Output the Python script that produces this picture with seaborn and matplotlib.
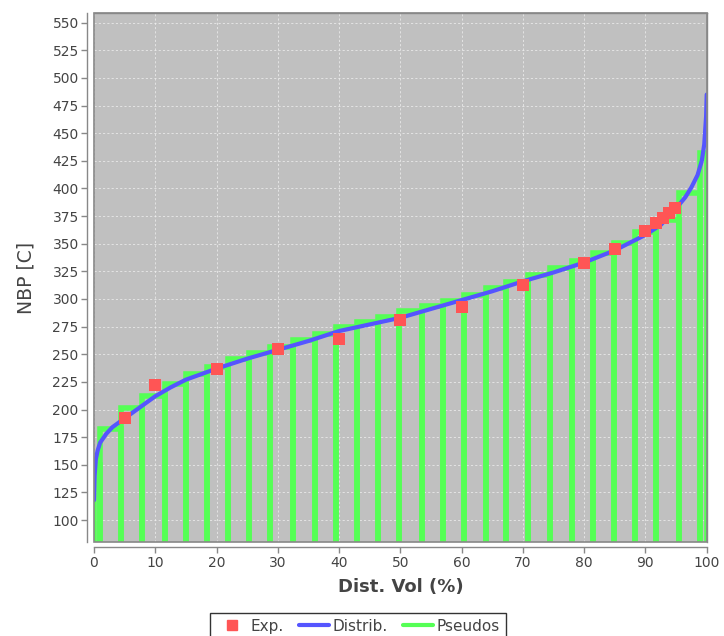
import matplotlib
matplotlib.use("Agg")
import matplotlib.pyplot as plt
from matplotlib.lines import Line2D
from matplotlib.patches import Rectangle
import numpy as np
import seaborn as sns

# Pseudo-component cut points (vol %) and their boiling temperatures
pseudo_edges = [0.0, 0.93, 4.47, 7.9, 11.54, 14.97, 18.45, 21.95, 25.3, 28.8,
                32.5, 36.0, 39.5, 43.0, 46.4, 49.8, 53.6, 57.0, 60.4, 64.0,
                67.3, 70.9, 74.5, 77.95, 81.5, 84.9, 88.3, 91.8, 95.5, 98.9, 100.0]
pseudo_nbp = [150, 182, 201, 212.5, 223, 232, 238.7, 245.4, 251.4, 257,
              263, 268.5, 274.4, 279.5, 284, 289, 293.9, 298.2, 303.6, 309.7,
              315.7, 321.7, 328.1, 334.6, 341.3, 350.3, 360.3, 371.5, 395.6, 431.8]

# Fitted distillation distribution
dist_vol = [0, 0.1, 0.3, 0.6, 1, 2, 3, 4.5, 6, 8, 10, 12.5, 15, 17.5, 20, 25,
            30, 35, 40, 45, 50, 55, 60, 65, 70, 75, 80, 85, 90, 92.5, 95,
            96.5, 97.5, 98.5, 99.2, 99.6, 99.9, 100]
dist_nbp = [118, 140, 155, 163, 170, 178, 184, 190, 196, 204, 212, 220, 227,
            232, 237, 246, 254, 262, 271, 277, 283, 291, 299, 307, 316, 324,
            333, 344, 358, 367, 382, 392, 401, 412, 425, 440, 465, 485]

# Experimental distillation points
exp_vol = [5, 10, 20, 30, 40, 50, 60, 70, 80, 85, 90, 91.7, 92.8, 93.8, 94.9]
exp_nbp = [192, 222.5, 236.5, 255, 264, 281, 292.5, 313, 333, 345.5, 361.5,
           368.5, 373, 377.5, 382]

RED = "#ff5555"
BLUE = "#5555ff"
GREEN = "#55ff55"
AXIS_GRAY = "#888888"
TEXT_GRAY = "#444444"

sns.set_theme(style="white")
plt.rcParams["font.family"] = ["DejaVu Sans"]

fig = plt.figure(figsize=(7.24, 6.36), dpi=100)
ax = fig.add_axes([94 / 724, 1 - 541.7 / 636, (706.7 - 94) / 724, (541.7 - 13.3) / 636])
ax.set_facecolor("#c0c0c0")

mids = [(a + b) / 2 for a, b in zip(pseudo_edges[:-1], pseudo_edges[1:])]
sns.histplot(x=mids, weights=pseudo_nbp, bins=pseudo_edges, element="bars",
             fill=False, color=GREEN, linewidth=4.0, ax=ax, zorder=2)
sns.lineplot(x=dist_vol, y=dist_nbp, color=BLUE, linewidth=3.0, sort=False,
             estimator=None, ax=ax, zorder=3)
sns.scatterplot(x=exp_vol, y=exp_nbp, marker="s", s=78, color=RED,
                linewidth=0, ax=ax, zorder=4)

ax.set_xlim(0, 100)
ax.set_ylim(80.4, 558.5)
ax.set_xticks(np.arange(0, 101, 10))
ax.set_yticks(np.arange(100, 551, 25))
ax.set_axisbelow(True)
ax.grid(True, color="#f0f0f0", linestyle=(0, (2.2, 2.2)), linewidth=0.7, alpha=0.75)

for side in ("top", "right"):
    ax.spines[side].set_color(AXIS_GRAY)
    ax.spines[side].set_linewidth(1.0)
ax.spines["left"].set_position(("outward", 5))
ax.spines["bottom"].set_position(("outward", 4))
for side in ("left", "bottom"):
    ax.spines[side].set_color(AXIS_GRAY)
    ax.spines[side].set_linewidth(1.0)
ax.add_patch(Rectangle((0, 0), 1, 1, transform=ax.transAxes, fill=False,
                       edgecolor=AXIS_GRAY, linewidth=1.2, zorder=6, clip_on=False))

ax.tick_params(axis="both", which="major", direction="out", length=4, width=1,
               color=AXIS_GRAY, labelcolor=TEXT_GRAY, labelsize=10, pad=2,
               left=True, bottom=True)

ax.set_xlabel("Dist. Vol (%)", fontsize=13, fontweight="bold", color=TEXT_GRAY, labelpad=6)
ax.set_ylabel("NBP [C]", fontsize=13.5, color=TEXT_GRAY, labelpad=12)

handles = [
    Line2D([], [], marker="s", linestyle="none", color=RED, markersize=7.5),
    Line2D([], [], color=BLUE, linewidth=3),
    Line2D([], [], color=GREEN, linewidth=3),
]
leg = fig.legend(handles, ["Exp.", "Distrib.", "Pseudos"], loc="upper center",
                 bbox_to_anchor=(358 / 724, 1 - 612.5 / 636), ncol=3, frameon=True,
                 fancybox=False, edgecolor="black", fontsize=11, handlelength=2.0,
                 handletextpad=0.2, columnspacing=1.0, borderpad=0.4, borderaxespad=0)
leg.get_frame().set_linewidth(1.0)
for t in leg.get_texts():
    t.set_color(TEXT_GRAY)

fig.savefig("out.png", dpi=100)
